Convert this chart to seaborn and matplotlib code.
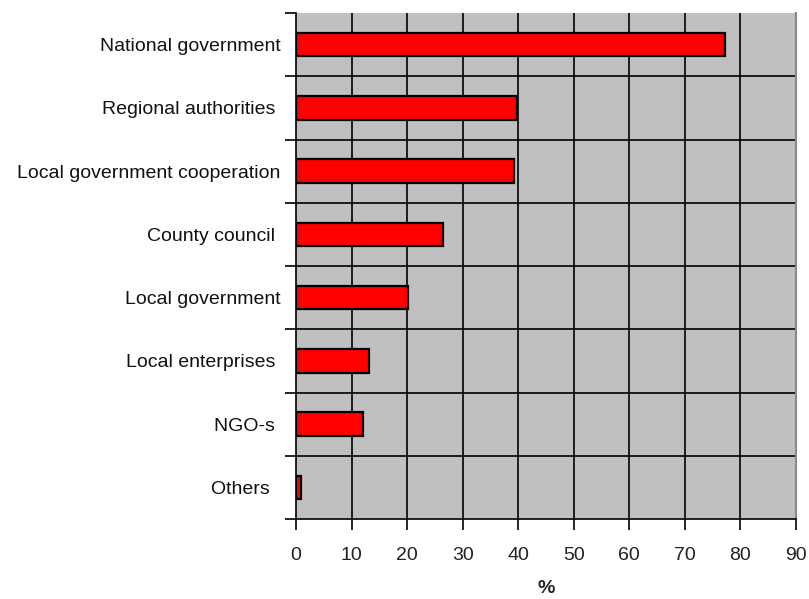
import matplotlib
matplotlib.use("Agg")
import matplotlib.pyplot as plt
import seaborn as sns
import pandas as pd
import numpy as np

categories = [
    "National government",
    "Regional authorities ",
    "Local government cooperation",
    "County council ",
    "Local government",
    "Local enterprises ",
    "NGO-s ",
    "Others  ",
]
values = [77.2, 39.7, 39.2, 26.4, 20.1, 13.1, 12.0, 0.9]
x_ticks = [0, 10, 20, 30, 40, 50, 60, 70, 80, 90]

df = pd.DataFrame({"category": categories, "percent": values})

sns.set_style("white")
plt.rcParams["font.family"] = ["Liberation Sans", "DejaVu Sans"]

fig = plt.figure(figsize=(8.09, 5.99), dpi=100)
ax = fig.add_axes([296 / 809, 1 - 519 / 599, 500 / 809, 506 / 599])
ax.set_facecolor("#C0C0C0")

sns.barplot(
    data=df, x="percent", y="category", orient="h", ax=ax,
    color="#FF0000", saturation=1, width=0.37,
    edgecolor="black", linewidth=1.6, zorder=3,
)

n = len(categories)
ax.set_xlim(0, 90)
ax.set_ylim(n - 0.5, -0.5)
ax.set_xticks(x_ticks)
ax.set_xticklabels([str(t) for t in x_ticks])

# category boundaries carry the ticks and horizontal rules
bounds = np.arange(n + 1) - 0.5
ax.set_yticks(bounds, minor=True)
ax.tick_params(axis="y", which="major", left=False, length=0, pad=11,
               labelsize=14, labelcolor="#111111")
ax.tick_params(axis="y", which="minor", left=True, length=8, width=1.2,
               color="black", direction="out")
ax.tick_params(axis="x", which="major", bottom=True, length=8, width=1.2,
               color="black", direction="out", pad=12, labelsize=14,
               labelcolor="#222222")

for b in bounds[1:-1]:
    ax.axhline(b, color="black", lw=1.2, zorder=2)
for t in x_ticks[1:-1]:
    ax.axvline(t, color="black", lw=1.2, zorder=2)

for side in ["left", "bottom"]:
    ax.spines[side].set_color("black")
    ax.spines[side].set_linewidth(1.2)
ax.spines["right"].set_color("#8a8a8a")
ax.spines["right"].set_linewidth(1.5)
ax.spines["top"].set_visible(False)

ax.set_ylabel("")
ax.set_xlabel("%", fontsize=14, fontweight="bold", labelpad=12)

fig.savefig("out.png", dpi=100, facecolor="white")
